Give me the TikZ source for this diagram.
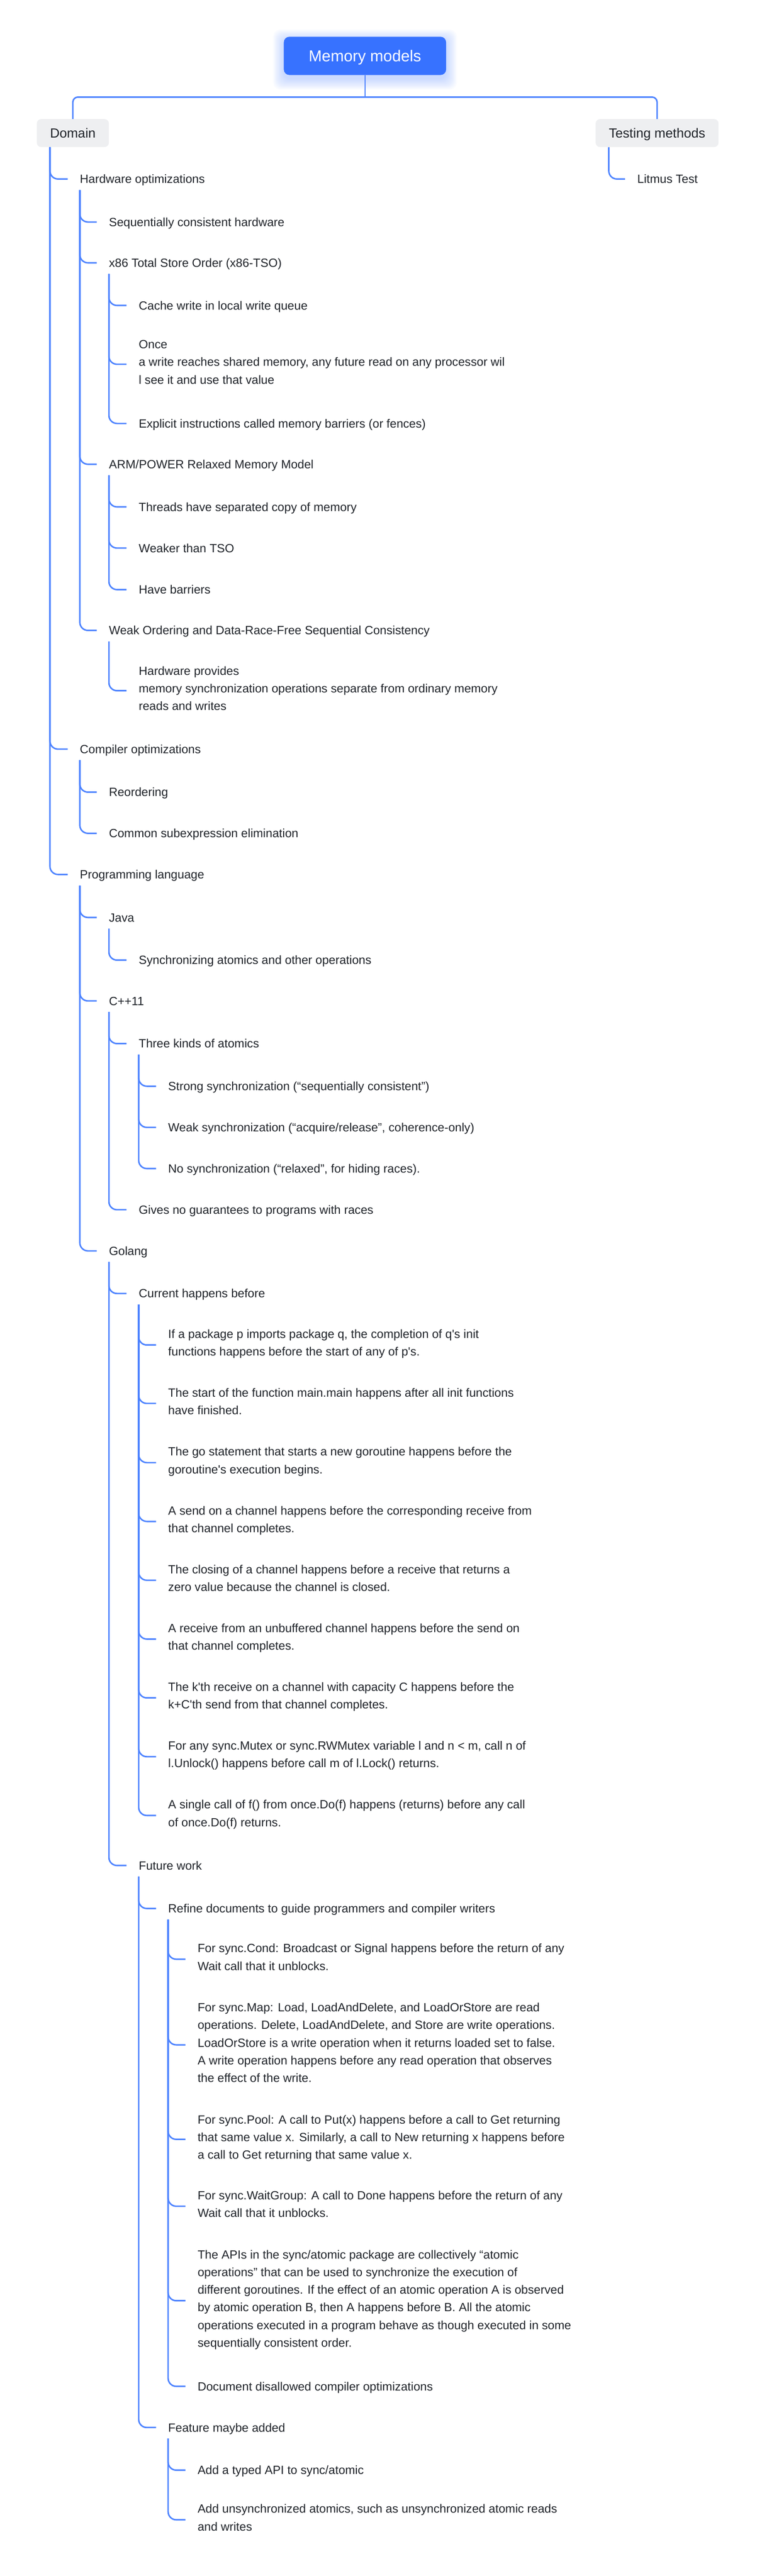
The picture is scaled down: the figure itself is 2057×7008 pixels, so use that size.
\documentclass[tikz,border=0pt]{standalone}
\usepackage{fontspec}
\setmainfont{Liberation Sans}[Ligatures=TeXOff]
\usetikzlibrary{positioning}

\definecolor{rootblue}{RGB}{55,114,255}
\definecolor{lineblue}{RGB}{77,131,255}
\definecolor{boxgray}{RGB}{238,239,241}
\definecolor{inkgray}{RGB}{31,35,41}
\newcommand{\itemstrut}{\vrule width 0pt height 35pt depth 12pt}

\begin{document}
\begin{tikzpicture}[x=1pt, y=-1pt]
\tikzstyle{root} = [rounded corners=15pt, fill=rootblue, text=white, font=\fontsize{43}{52}\selectfont, minimum width=441pt, minimum height=104pt, inner sep=0pt, text height=31pt, text depth=0pt]
\tikzstyle{topic} = [rounded corners=12pt, fill=boxgray, text=inkgray, font=\fontsize{36}{44}\selectfont, minimum height=76pt, inner xsep=36pt, inner ysep=0pt, text height=26pt, text depth=0pt]
\tikzstyle{item} = [anchor=west, inner sep=0pt, align=left, text=inkgray, font=\fontsize{32.5}{48}\selectfont, execute at begin node=\itemstrut, execute at end node=\itemstrut]
\tikzstyle{branch} = [draw=lineblue, line width=4pt, rounded corners=22pt]
\tikzstyle{bus} = [draw=lineblue, line width=4pt, rounded corners=14pt]
\tikzstyle{stem} = [draw=lineblue, line width=3pt]

\useasboundingbox (0,0) rectangle (2057,7008);

% glow under the root
\foreach \r in {1,...,15}
  \fill[rootblue, opacity=0.018, rounded corners=20pt] (772-2*\r, 100-2*\r+10) rectangle (1212+2*\r, 204+2*\r+10);

\node[root] (root) at (992,152) {Memory models};
\node[topic] (domain) at (198,362) {Domain};
\node[topic] (testing) at (1786,362) {Testing methods};
\coordinate (busmid) at (992,264);

\draw[stem] (root.south) -- (busmid);
\draw[bus] (domain.north) |- (busmid) -| (testing.north);

% testing methods
\node[item] (litmus) at (1732,487) {Litmus Test};
\draw[branch] ([xshift=36pt]testing.south west) |- ([xshift=-33pt]litmus.west);

% hardware
\node[item] (hw) at (217,487) {Hardware optimizations};
\node[item] (seqhw) at (296,604) {Sequentially consistent hardware};
\node[item] (tso) at (296,715) {x86 Total Store Order (x86-TSO)};
\node[item] (tsocache) at (377,831) {Cache write in local write queue};
\node[item] (tsoonce) at (377,991) {Once\\a write reaches shared memory, any future read on any processor wil\\l see it and use that value};
\node[item] (tsofence) at (377,1152) {Explicit instructions called memory barriers (or fences)};
\node[item] (arm) at (296,1263) {ARM/POWER Relaxed Memory Model};
\node[item] (armcopy) at (377,1379) {Threads have separated copy of memory};
\node[item] (armweak) at (377,1491) {Weaker than TSO};
\node[item] (armbar) at (377,1604) {Have barriers};
\node[item] (drf) at (296,1715) {Weak Ordering and Data-Race-Free Sequential Consistency};
\node[item] (drfhw) at (377,1879) {Hardware provides\\memory synchronization operations separate from ordinary memory\\reads and writes};

% compiler
\node[item] (comp) at (217,2038) {Compiler optimizations};
\node[item] (comprd) at (296,2155) {Reordering};
\node[item] (compcse) at (296,2267) {Common subexpression elimination};

% languages
\node[item] (lang) at (217,2379) {Programming language};
\node[item] (java) at (296,2496) {Java};
\node[item] (javasync) at (377,2612) {Synchronizing atomics and other operations};
\node[item] (cpp) at (296,2723) {C++11};
\node[item] (cppkinds) at (377,2839) {Three kinds of atomics};
\node[item] (cppstrong) at (457,2955) {Strong synchronization (“sequentially consistent”)};
\node[item] (cppweak) at (457,3067) {Weak synchronization (“acquire/release”, coherence-only)};
\node[item] (cppnone) at (457,3179) {No synchronization (“relaxed”, for hiding races).};
\node[item] (cppraces) at (377,3291) {Gives no guarantees to programs with races};
\node[item] (go) at (296,3403) {Golang};
\node[item] (gohb) at (377,3519) {Current happens before};
\node[item] (hb1) at (457,3659) {If a package p imports package q, the completion of q's init\\functions happens before the start of any of p's.};
\node[item] (hb2) at (457,3818) {The start of the function main.main happens after all init functions\\have finished.};
\node[item] (hb3) at (457,3979) {The go statement that starts a new goroutine happens before the\\goroutine's execution begins.};
\node[item] (hb4) at (457,4139) {A send on a channel happens before the corresponding receive from\\that channel completes.};
\node[item] (hb5) at (457,4299) {The closing of a channel happens before a receive that returns a\\zero value because the channel is closed.};
\node[item] (hb6) at (457,4459) {A receive from an unbuffered channel happens before the send on\\that channel completes.};
\node[item] (hb7) at (457,4619) {The k'th receive on a channel with capacity C happens before the\\k+C'th send from that channel completes.};
\node[item] (hb8) at (457,4779) {For any sync.Mutex or sync.RWMutex variable l and n < m, call n of\\l.Unlock() happens before call m of l.Lock() returns.};
\node[item] (hb9) at (457,4939) {A single call of f() from once.Do(f) happens (returns) before any call\\of once.Do(f) returns.};
\node[item] (gofut) at (377,5075) {Future work};
\node[item] (refine) at (457,5192) {Refine documents to guide programmers and compiler writers};
\node[item] (rf1) at (537,5330) {For sync.Cond: Broadcast or Signal happens before the return of any\\Wait call that it unblocks.};
\node[item] (rf2) at (537,5563) {For sync.Map: Load, LoadAndDelete, and LoadOrStore are read\\operations. Delete, LoadAndDelete, and Store are write operations.\\LoadOrStore is a write operation when it returns loaded set to false.\\A write operation happens before any read operation that observes\\the effect of the write.};
\node[item] (rf3) at (537,5820) {For sync.Pool: A call to Put(x) happens before a call to Get returning\\that same value x. Similarly, a call to New returning x happens before\\a call to Get returning that same value x.};
\node[item] (rf4) at (537,6002) {For sync.WaitGroup: A call to Done happens before the return of any\\Wait call that it unblocks.};
\node[item] (rf5) at (537,6259) {The APIs in the sync/atomic package are collectively “atomic\\operations” that can be used to synchronize the execution of\\different goroutines. If the effect of an atomic operation A is observed\\by atomic operation B, then A happens before B. All the atomic\\operations executed in a program behave as though executed in some\\sequentially consistent order.};
\node[item] (rf6) at (537,6492) {Document disallowed compiler optimizations};
\node[item] (feat) at (457,6604) {Feature maybe added};
\node[item] (ft1) at (537,6720) {Add a typed API to sync/atomic};
\node[item] (ft2) at (537,6855) {Add unsynchronized atomics, such as unsynchronized atomic reads\\and writes};

% domain branches
\draw[branch] ([xshift=36pt]domain.south west) |- ([xshift=-33pt]hw.west);
\draw[branch] ([xshift=36pt]domain.south west) |- ([xshift=-33pt]comp.west);
\draw[branch] ([xshift=36pt]domain.south west) |- ([xshift=-33pt]lang.west);

\draw[branch] ([yshift=-30pt]hw.west) |- ([xshift=-33pt]seqhw.west);
\draw[branch] ([yshift=-30pt]hw.west) |- ([xshift=-33pt]tso.west);
\draw[branch] ([yshift=-30pt]hw.west) |- ([xshift=-33pt]arm.west);
\draw[branch] ([yshift=-30pt]hw.west) |- ([xshift=-33pt]drf.west);
\draw[branch] ([yshift=-30pt]tso.west) |- ([xshift=-33pt]tsocache.west);
\draw[branch] ([yshift=-30pt]tso.west) |- ([xshift=-33pt]tsoonce.west);
\draw[branch] ([yshift=-30pt]tso.west) |- ([xshift=-33pt]tsofence.west);
\draw[branch] ([yshift=-30pt]arm.west) |- ([xshift=-33pt]armcopy.west);
\draw[branch] ([yshift=-30pt]arm.west) |- ([xshift=-33pt]armweak.west);
\draw[branch] ([yshift=-30pt]arm.west) |- ([xshift=-33pt]armbar.west);
\draw[branch] ([yshift=-30pt]drf.west) |- ([xshift=-33pt]drfhw.west);

\draw[branch] ([yshift=-30pt]comp.west) |- ([xshift=-33pt]comprd.west);
\draw[branch] ([yshift=-30pt]comp.west) |- ([xshift=-33pt]compcse.west);

\draw[branch] ([yshift=-30pt]lang.west) |- ([xshift=-33pt]java.west);
\draw[branch] ([yshift=-30pt]lang.west) |- ([xshift=-33pt]cpp.west);
\draw[branch] ([yshift=-30pt]lang.west) |- ([xshift=-33pt]go.west);
\draw[branch] ([yshift=-30pt]java.west) |- ([xshift=-33pt]javasync.west);
\draw[branch] ([yshift=-30pt]cpp.west) |- ([xshift=-33pt]cppkinds.west);
\draw[branch] ([yshift=-30pt]cpp.west) |- ([xshift=-33pt]cppraces.west);
\draw[branch] ([yshift=-30pt]cppkinds.west) |- ([xshift=-33pt]cppstrong.west);
\draw[branch] ([yshift=-30pt]cppkinds.west) |- ([xshift=-33pt]cppweak.west);
\draw[branch] ([yshift=-30pt]cppkinds.west) |- ([xshift=-33pt]cppnone.west);
\draw[branch] ([yshift=-30pt]go.west) |- ([xshift=-33pt]gohb.west);
\draw[branch] ([yshift=-30pt]go.west) |- ([xshift=-33pt]gofut.west);
\foreach \h in {hb1,hb2,hb3,hb4,hb5,hb6,hb7,hb8,hb9}
  \draw[branch] ([yshift=-30pt]gohb.west) |- ([xshift=-33pt]\h.west);
\draw[branch] ([yshift=-30pt]gofut.west) |- ([xshift=-33pt]refine.west);
\draw[branch] ([yshift=-30pt]gofut.west) |- ([xshift=-33pt]feat.west);
\foreach \h in {rf1,rf2,rf3,rf4,rf5,rf6}
  \draw[branch] ([yshift=-30pt]refine.west) |- ([xshift=-33pt]\h.west);
\draw[branch] ([yshift=-30pt]feat.west) |- ([xshift=-33pt]ft1.west);
\draw[branch] ([yshift=-30pt]feat.west) |- ([xshift=-33pt]ft2.west);
\end{tikzpicture}
\end{document}
